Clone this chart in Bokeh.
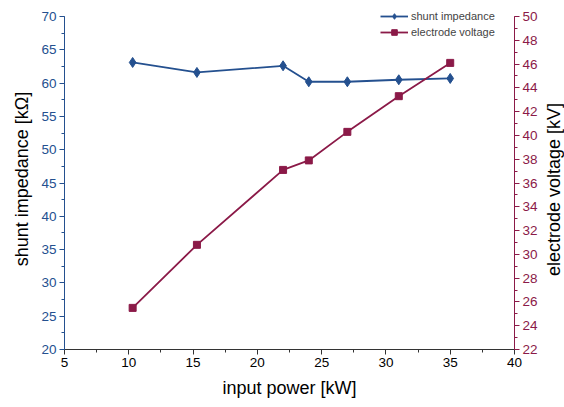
import math
from bokeh.plotting import figure
from bokeh.models import Range1d, LinearAxis, Legend, LegendItem, SingleIntervalTicker, Label
from bokeh.embed import file_html
from bokeh.resources import INLINE

# data
input_power = [10.3, 15.3, 22.0, 24.0, 27.0, 31.0, 35.0]
shunt_impedance = [63.1, 61.6, 62.6, 60.2, 60.2, 60.5, 60.7]
electrode_voltage = [25.5, 30.8, 37.1, 37.9, 40.3, 43.3, 46.1]

BLUE = "#24508f"
RED = "#8b1a48"
FONT = "Liberation Sans"

# frame extends 8px above the top tick so the legend is not clipped; axis bounds keep the look
p = figure(width=564, height=407, output_backend="svg", toolbar_location=None,
           x_range=Range1d(5, 40), y_range=Range1d(20, 20 + 341 * 50 / 333),
           min_border_left=64, min_border_right=50, min_border_top=8, min_border_bottom=58)
p.outline_line_color = None
p.xgrid.visible = False
p.ygrid.visible = False
p.extra_y_ranges = {"v": Range1d(22, 22 + 341 * 28 / 333)}

l1 = p.line(input_power, shunt_impedance, line_color=BLUE, line_width=1.8)
s1 = p.scatter(input_power, shunt_impedance, marker="diamond", size=10,
               fill_color=BLUE, line_color=BLUE)
l2 = p.line(input_power, electrode_voltage, line_color=RED, line_width=1.8, y_range_name="v")
s2 = p.scatter(input_power, electrode_voltage, marker="square", size=7,
               fill_color=RED, line_color=RED, y_range_name="v")

def style(ax, color, label_color, major, minor):
    ax.ticker = SingleIntervalTicker(interval=major, num_minor_ticks=minor)
    ax.axis_line_color = color
    ax.major_tick_line_color = color
    ax.minor_tick_line_color = color
    ax.major_tick_in = 0
    ax.major_tick_out = 5
    ax.minor_tick_in = 0
    ax.minor_tick_out = 3
    ax.major_label_text_color = label_color
    ax.major_label_text_font = FONT
    ax.major_label_text_font_size = "13.5px"
    ax.axis_label_text_font = FONT
    ax.axis_label_text_font_size = "18px"
    ax.axis_label_text_font_style = "normal"
    ax.axis_label_text_color = "black"
    ax.major_label_standoff = 3
    ax.axis_label_standoff = 6

xa = p.xaxis[0]
style(xa, "#333333", "black", 5, 2)
xa.axis_label = "input power [kW]"
xa.axis_label_standoff = 8

ya = p.yaxis[0]
style(ya, BLUE, BLUE, 5, 2)
ya.axis_label = "shunt impedance [kΩ]"
ya.bounds = (20, 70)

ra = LinearAxis(y_range_name="v")
style(ra, RED, RED, 2, 2)
ra.bounds = (22, 50)
p.add_layout(ra, "right")

# right axis title, reading bottom-to-top like the reference
p.add_layout(Label(x=13, y=160, x_units="screen", y_units="screen",
                   text="electrode voltage [kV]", angle=math.pi / 2,
                   text_align="center", text_baseline="middle",
                   text_font=FONT, text_font_size="18px", text_color="black"), "right")

legend = Legend(items=[
    LegendItem(label="shunt impedance", renderers=[l1, s1]),
    LegendItem(label="electrode voltage", renderers=[l2, s2]),
], location=(316, 310))
legend.label_text_font = FONT
legend.label_text_font_size = "11px"
legend.glyph_width = 28
legend.glyph_height = 14
legend.label_height = 14
legend.spacing = 2
legend.padding = 0
legend.margin = 0
legend.label_standoff = 3
legend.border_line_alpha = 0
legend.background_fill_alpha = 0
p.add_layout(legend)

open("out.html", "w").write(file_html(p, INLINE))
